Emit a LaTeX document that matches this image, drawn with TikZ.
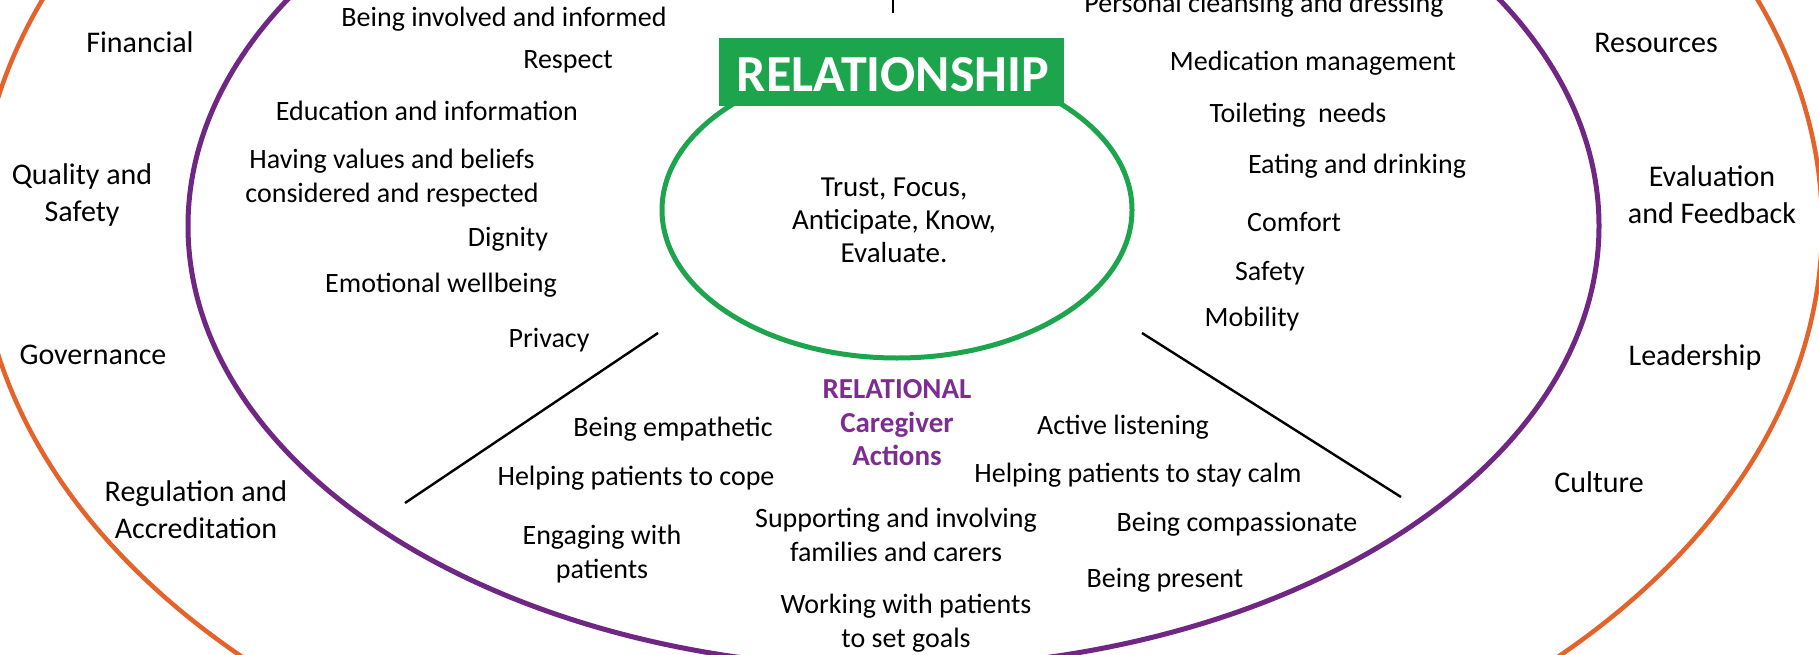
\documentclass[tikz,border=0pt]{standalone}
\usepackage{fontspec}
\setmainfont{Carlito}
\usetikzlibrary{shapes.geometric}
\definecolor{ringorange}{RGB}{228,99,42}
\definecolor{ringpurple}{RGB}{112,38,131}
\definecolor{relpurple}{RGB}{125,45,145}
\definecolor{relgreen}{RGB}{29,165,78}
\begin{document}
\begin{tikzpicture}[x=1pt,y=-1pt,
  outertxt/.style={font=\fontsize{30}{37}\selectfont, align=center, inner sep=0pt},
  innertxt/.style={font=\fontsize{28}{34}\selectfont, align=center, inner sep=0pt},
  coretxt/.style={font=\fontsize{29}{33}\selectfont, align=center, inner sep=0pt},
  actiontxt/.style={font=\fontsize{29}{33.5}\selectfont\bfseries, text=relpurple, align=center, inner sep=0pt},
  titlebox/.style={fill=relgreen, minimum width=345pt, minimum height=68pt, inner sep=0pt},
  titletxt/.style={font=\fontsize{52}{58}\selectfont\bfseries, text=white, inner sep=0pt},
  divider/.style={draw=black, line width=2.4pt},
]
\useasboundingbox (0,0) rectangle (1819,655);
\clip (0,0) rectangle (1819,655);
\fill[white] (0,0) rectangle (1819,655);

% rings
\draw[ringorange, line width=4.5pt] (900,226) ellipse (922 and 615);
\draw[ringpurple, line width=5pt] (893.5,226) ellipse (705.5 and 442);
\node[ellipse, draw=relgreen, line width=5pt, minimum width=470pt, minimum height=296pt, inner sep=0pt] (core) at (897,210) {};

% title
\node[titlebox] (relbox) at (891.5,72) {};
\node[titletxt, anchor=base] (reltitle) at (893,92) {RELATIONSHIP};
\node[coretxt] (corevalues) at (894,220) {Trust, Focus,\\Anticipate, Know,\\Evaluate.};

% top fragment
\coordinate (tickA) at (893,0);
\coordinate (tickB) at (893,13);
\draw[divider] (tickA) -- (tickB);

% dividers
\coordinate (dl1) at (658,333);
\coordinate (dl2) at (405,503);
\coordinate (dr1) at (1142,333);
\coordinate (dr2) at (1401,497);
\draw[divider] (dl1) -- (dl2);
\draw[divider] (dr1) -- (dr2);

% outer ring, left
\node[outertxt, anchor=base] (financial) at (140,53) {Financial};
\node[outertxt] (quality) at (82,195) {Quality and\\Safety};
\node[outertxt, anchor=base] (governance) at (93,364) {Governance};
\node[outertxt] (regulation) at (196,510) {Regulation and\\Accreditation};

% outer ring, right
\node[outertxt, anchor=base] (resources) at (1656,53) {Resources};
\node[outertxt] (evaluation) at (1712,195) {Evaluation\\and Feedback};
\node[outertxt, anchor=base] (leadership) at (1695,365) {Leadership};
\node[outertxt, anchor=base] (culture) at (1599,492) {Culture};

% inner left
\node[innertxt, anchor=base] (involved) at (504,27) {Being involved and informed};
\node[innertxt, anchor=base] (respect) at (568,69) {Respect};
\node[innertxt, anchor=base] (education) at (427,121) {Education and information};
\node[innertxt] (values) at (392,178) {Having values and beliefs\\considered and respected};
\node[innertxt, anchor=base] (dignity) at (508,246) {Dignity};
\node[innertxt, anchor=base] (emotional) at (441,292) {Emotional wellbeing};
\node[innertxt, anchor=base] (privacy) at (549,347) {Privacy};

% inner right
\node[innertxt, anchor=base] (cleansing) at (1264,13) {Personal cleansing and dressing};
\node[innertxt, anchor=base] (medication) at (1313,71) {Medication management};
\node[innertxt, anchor=base] (toileting) at (1298,123) {Toileting\ \ needs};
\node[innertxt, anchor=base] (eating) at (1357,174) {Eating and drinking};
\node[innertxt, anchor=base] (comfort) at (1294,231) {Comfort};
\node[innertxt, anchor=base] (safety) at (1270,280) {Safety};
\node[innertxt, anchor=base] (mobility) at (1252,326) {Mobility};

% relational caregiver actions
\node[actiontxt] (actions) at (897,423) {RELATIONAL\\Caregiver\\Actions};
\node[innertxt, anchor=base] (empathetic) at (673,436) {Being empathetic};
\node[innertxt, anchor=base] (cope) at (636,485) {Helping patients to cope};
\node[innertxt] (engaging) at (602,554) {Engaging with\\patients};
\node[innertxt] (supporting) at (896,535) {Supporting and involving\\families and carers};
\node[innertxt] (goals) at (906,623) {Working with patients\\to set goals};
\node[innertxt, anchor=base] (listening) at (1123,434) {Active listening};
\node[innertxt, anchor=base] (calm) at (1138,482) {Helping patients to stay calm};
\node[innertxt, anchor=base] (compassionate) at (1237,531) {Being compassionate};
\node[innertxt, anchor=base] (present) at (1165,587) {Being present};
\end{tikzpicture}
\end{document}
